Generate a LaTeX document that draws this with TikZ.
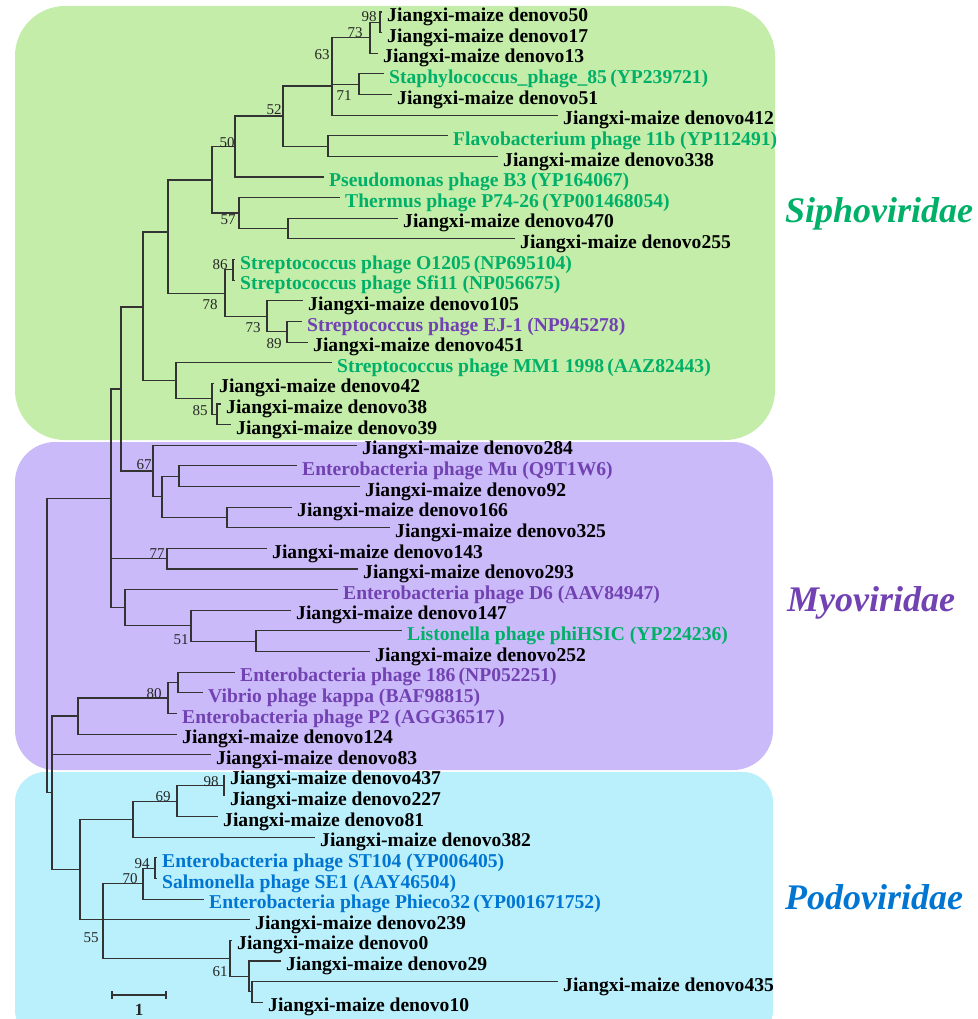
\documentclass[tikz,border=0pt]{standalone}
\usepackage{fontspec}
\setmainfont{Liberation Serif}
\usepackage{xcolor}
\usepackage{tikz}
\usetikzlibrary{positioning}

\definecolor{siphobox}{RGB}{195,237,168}
\definecolor{myobox}{RGB}{202,186,250}
\definecolor{podobox}{RGB}{186,240,252}
\definecolor{siphotext}{RGB}{0,176,104}
\definecolor{myotext}{RGB}{114,66,178}
\definecolor{podotext}{RGB}{0,118,210}

\begin{document}
\begin{tikzpicture}[x=1pt, y=-1pt,
  branch/.style={draw=black!80, line width=1.05pt},
  leaf/.style={anchor=west, inner sep=0pt, xshift=5pt, yshift=-5pt,
    font=\fontsize{19.6}{20}\selectfont\bfseries},
  sipho/.style={leaf, text=siphotext},
  myo/.style={leaf, text=myotext},
  podo/.style={leaf, text=podotext},
  boot/.style={inner sep=0pt, text=black!85, font=\fontsize{15}{15}\selectfont},
  family/.style={font=\fontsize{36}{36}\selectfont\bfseries\itshape}]
\useasboundingbox (0,0) rectangle (977,1019);
\clip (0,0) rectangle (977,1019);

% family boxes
\fill[siphobox, rounded corners=50pt] (15,6) rectangle (775,440);
\fill[myobox, rounded corners=40pt] (15,442) rectangle (773,770);
\fill[podobox, rounded corners=30pt] (15,772) rectangle (773,1040);
\node[family, text=siphotext] (siphoname) at (879,214) {Siphoviridae};
\node[family, text=myotext] (myoname) at (871,603) {Myoviridae};
\node[family, text=podotext] (podoname) at (874,897) {Podoviridae};

% tips and labels
\coordinate (t1) at (382,12.0); \node[leaf] (l1) at (t1) {Jiangxi-maize denovo50};
\coordinate (t2) at (382,32.6); \node[leaf] (l2) at (t2) {Jiangxi-maize denovo17};
\coordinate (t3) at (378,53.3); \node[leaf] (l3) at (t3) {Jiangxi-maize denovo13};
\coordinate (t4) at (384,73.9); \node[sipho] (l4) at (t4) {Staphylococcus\_phage\_85\,(YP239721)};
\coordinate (t5) at (392,94.5); \node[leaf] (l5) at (t5) {Jiangxi-maize denovo51};
\coordinate (t6) at (558,115.2); \node[leaf] (l6) at (t6) {Jiangxi-maize denovo412};
\coordinate (t7) at (448,135.8); \node[sipho] (l7) at (t7) {Flavobacterium phage 11b (YP112491)};
\coordinate (t8) at (498,156.4); \node[leaf] (l8) at (t8) {Jiangxi-maize denovo338};
\coordinate (t9) at (324,177.0); \node[sipho] (l9) at (t9) {Pseudomonas phage B3 (YP164067)};
\coordinate (t10) at (340,197.7); \node[sipho] (l10) at (t10) {Thermus phage P74-26\,(YP001468054)};
\coordinate (t11) at (398,218.3); \node[leaf] (l11) at (t11) {Jiangxi-maize denovo470};
\coordinate (t12) at (515,238.9); \node[leaf] (l12) at (t12) {Jiangxi-maize denovo255};
\coordinate (t13) at (235,259.6); \node[sipho] (l13) at (t13) {Streptococcus phage O1205\,(NP695104)};
\coordinate (t14) at (235,280.2); \node[sipho] (l14) at (t14) {Streptococcus phage Sfi11 (NP056675)};
\coordinate (t15) at (303,300.8); \node[leaf] (l15) at (t15) {Jiangxi-maize denovo105};
\coordinate (t16) at (302,321.5); \node[myo] (l16) at (t16) {Streptococcus phage EJ-1 (NP945278)};
\coordinate (t17) at (308,342.1); \node[leaf] (l17) at (t17) {Jiangxi-maize denovo451};
\coordinate (t18) at (332,362.7); \node[sipho] (l18) at (t18) {Streptococcus phage MM1 1998\,(AAZ82443)};
\coordinate (t19) at (214,383.3); \node[leaf] (l19) at (t19) {Jiangxi-maize denovo42};
\coordinate (t20) at (221,404.0); \node[leaf] (l20) at (t20) {Jiangxi-maize denovo38};
\coordinate (t21) at (231,424.6); \node[leaf] (l21) at (t21) {Jiangxi-maize denovo39};
\coordinate (t22) at (357,445.2); \node[leaf] (l22) at (t22) {Jiangxi-maize denovo284};
\coordinate (t23) at (297,465.9); \node[myo] (l23) at (t23) {Enterobacteria phage Mu (Q9T1W6)};
\coordinate (t24) at (360,486.5); \node[leaf] (l24) at (t24) {Jiangxi-maize denovo92};
\coordinate (t25) at (292,507.1); \node[leaf] (l25) at (t25) {Jiangxi-maize denovo166};
\coordinate (t26) at (390,527.8); \node[leaf] (l26) at (t26) {Jiangxi-maize denovo325};
\coordinate (t27) at (267,548.4); \node[leaf] (l27) at (t27) {Jiangxi-maize denovo143};
\coordinate (t28) at (358,569.0); \node[leaf] (l28) at (t28) {Jiangxi-maize denovo293};
\coordinate (t29) at (338,589.6); \node[myo] (l29) at (t29) {Enterobacteria phage D6 (AAV84947)};
\coordinate (t30) at (291,610.3); \node[leaf] (l30) at (t30) {Jiangxi-maize denovo147};
\coordinate (t31) at (402,630.9); \node[sipho] (l31) at (t31) {Listonella phage phiHSIC (YP224236)};
\coordinate (t32) at (370,651.5); \node[leaf] (l32) at (t32) {Jiangxi-maize denovo252};
\coordinate (t33) at (235,672.2); \node[myo] (l33) at (t33) {Enterobacteria phage 186\,(NP052251)};
\coordinate (t34) at (203,692.8); \node[myo] (l34) at (t34) {Vibrio phage kappa (BAF98815)};
\coordinate (t35) at (177,713.4); \node[myo] (l35) at (t35) {Enterobacteria phage P2 (AGG36517\,)};
\coordinate (t36) at (177,734.1); \node[leaf] (l36) at (t36) {Jiangxi-maize denovo124};
\coordinate (t37) at (211,754.7); \node[leaf] (l37) at (t37) {Jiangxi-maize denovo83};
\coordinate (t38) at (225,775.3); \node[leaf] (l38) at (t38) {Jiangxi-maize denovo437};
\coordinate (t39) at (225,795.9); \node[leaf] (l39) at (t39) {Jiangxi-maize denovo227};
\coordinate (t40) at (218,816.6); \node[leaf] (l40) at (t40) {Jiangxi-maize denovo81};
\coordinate (t41) at (315,837.2); \node[leaf] (l41) at (t41) {Jiangxi-maize denovo382};
\coordinate (t42) at (157,857.8); \node[podo] (l42) at (t42) {Enterobacteria phage ST104 (YP006405)};
\coordinate (t43) at (157,878.5); \node[podo] (l43) at (t43) {Salmonella phage SE1 (AAY46504)};
\coordinate (t44) at (204,899.1); \node[podo] (l44) at (t44) {Enterobacteria phage Phieco32\,(YP001671752)};
\coordinate (t45) at (250,919.7); \node[leaf] (l45) at (t45) {Jiangxi-maize denovo239};
\coordinate (t46) at (232,940.3); \node[leaf] (l46) at (t46) {Jiangxi-maize denovo0};
\coordinate (t47) at (281,961.0); \node[leaf] (l47) at (t47) {Jiangxi-maize denovo29};
\coordinate (t48) at (558,981.6); \node[leaf] (l48) at (t48) {Jiangxi-maize denovo435};
\coordinate (t49) at (263,1002.2); \node[leaf] (l49) at (t49) {Jiangxi-maize denovo10};

% inner nodes
\coordinate (n98a) at (380,22.3);
\coordinate (n73a) at (370,37.8);
\coordinate (n71) at (359,84.2);
\coordinate (n63) at (332,86);
\coordinate (nfl) at (328,146.1);
\coordinate (n52) at (283,116);
\coordinate (n50) at (235,146.5);
\coordinate (nps) at (212,180);
\coordinate (n57) at (239,213);
\coordinate (nth) at (288,228.6);
\coordinate (n86) at (233,269.9);
\coordinate (n89) at (287,331.8);
\coordinate (n73b) at (267,316.3);
\coordinate (n78) at (225,293.1);
\coordinate (nst) at (168,232);
\coordinate (n85) at (217,414.3);
\coordinate (n42) at (212,398.8);
\coordinate (nmm) at (176,380.8);
\coordinate (nsi) at (143,307);
\coordinate (nmu) at (179,476.2);
\coordinate (n166) at (227,517.5);
\coordinate (nmy) at (162,496.8);
\coordinate (n67) at (153,471);
\coordinate (nup) at (121,389);
\coordinate (n77) at (167,558.7);
\coordinate (nli) at (256,641.2);
\coordinate (n51) at (191,625.8);
\coordinate (nd6) at (125,607.7);
\coordinate (ntop) at (111,498.4);
\coordinate (nka) at (178,682.5);
\coordinate (n80) at (168,698);
\coordinate (np2) at (78,716);
\coordinate (n98b) at (224,785.6);
\coordinate (n69) at (177,801.1);
\coordinate (n382) at (133,819.2);
\coordinate (n94) at (155,868.2);
\coordinate (n70) at (143,883.6);
\coordinate (n252) at (252,991.9);
\coordinate (n249) at (249,976.4);
\coordinate (n61) at (230,958.4);
\coordinate (n55) at (103,919.7);
\coordinate (npo) at (80,869.5);
\coordinate (nlow) at (52,792.8);
\coordinate (root) at (47,645.6);

% branches
\draw[branch] (n98a) |- (t1); \draw[branch] (n98a) |- (t2);
\draw[branch] (n73a) |- (n98a); \draw[branch] (n73a) |- (t3);
\draw[branch] (n71) |- (t4); \draw[branch] (n71) |- (t5);
\draw[branch] (n63) |- (n73a); \draw[branch] (n63) |- (n71); \draw[branch] (n63) |- (t6);
\draw[branch] (nfl) |- (t7); \draw[branch] (nfl) |- (t8);
\draw[branch] (n52) |- (n63); \draw[branch] (n52) |- (nfl);
\draw[branch] (n50) |- (n52); \draw[branch] (n50) |- (t9);
\draw[branch] (nth) |- (t11); \draw[branch] (nth) |- (t12);
\draw[branch] (n57) |- (t10); \draw[branch] (n57) |- (nth);
\draw[branch] (nps) |- (n50); \draw[branch] (nps) |- (n57);
\draw[branch] (n86) |- (t13); \draw[branch] (n86) |- (t14);
\draw[branch] (n89) |- (t16); \draw[branch] (n89) |- (t17);
\draw[branch] (n73b) |- (t15); \draw[branch] (n73b) |- (n89);
\draw[branch] (n78) |- (n86); \draw[branch] (n78) |- (n73b);
\draw[branch] (nst) |- (nps); \draw[branch] (nst) |- (n78);
\draw[branch] (n85) |- (t20); \draw[branch] (n85) |- (t21);
\draw[branch] (n42) |- (t19); \draw[branch] (n42) |- (n85);
\draw[branch] (nmm) |- (t18); \draw[branch] (nmm) |- (n42);
\draw[branch] (nsi) |- (nst); \draw[branch] (nsi) |- (nmm);
\draw[branch] (nmu) |- (t23); \draw[branch] (nmu) |- (t24);
\draw[branch] (n166) |- (t25); \draw[branch] (n166) |- (t26);
\draw[branch] (nmy) |- (nmu); \draw[branch] (nmy) |- (n166);
\draw[branch] (n67) |- (t22); \draw[branch] (n67) |- (nmy);
\draw[branch] (nup) |- (nsi); \draw[branch] (nup) |- (n67);
\draw[branch] (n77) |- (t27); \draw[branch] (n77) |- (t28);
\draw[branch] (nli) |- (t31); \draw[branch] (nli) |- (t32);
\draw[branch] (n51) |- (t30); \draw[branch] (n51) |- (nli);
\draw[branch] (nd6) |- (t29); \draw[branch] (nd6) |- (n51);
\draw[branch] (ntop) |- (nup); \draw[branch] (ntop) |- (n77); \draw[branch] (ntop) |- (nd6);
\draw[branch] (nka) |- (t33); \draw[branch] (nka) |- (t34);
\draw[branch] (n80) |- (nka); \draw[branch] (n80) |- (t35);
\draw[branch] (np2) |- (n80); \draw[branch] (np2) |- (t36);
\draw[branch] (n98b) |- (t38); \draw[branch] (n98b) |- (t39);
\draw[branch] (n69) |- (n98b); \draw[branch] (n69) |- (t40);
\draw[branch] (n382) |- (n69); \draw[branch] (n382) |- (t41);
\draw[branch] (n94) |- (t42); \draw[branch] (n94) |- (t43);
\draw[branch] (n70) |- (n94); \draw[branch] (n70) |- (t44);
\draw[branch] (n252) |- (t48); \draw[branch] (n252) |- (t49);
\draw[branch] (n249) |- (t47); \draw[branch] (n249) |- (n252);
\draw[branch] (n61) |- (t46); \draw[branch] (n61) |- (n249);
\draw[branch] (n55) |- (n70); \draw[branch] (n55) |- (n61);
\draw[branch] (npo) |- (n382); \draw[branch] (npo) |- (n55); \draw[branch] (npo) |- (t45);
\draw[branch] (nlow) |- (np2); \draw[branch] (nlow) |- (t37); \draw[branch] (nlow) |- (npo);
\draw[branch] (root) |- (ntop); \draw[branch] (root) |- (nlow);

% bootstrap values
\node[boot] (b98a) at (369,17) {98};
\node[boot] (b73a) at (355,33) {73};
\node[boot] (b63) at (322,55) {63};
\node[boot] (b71) at (344,96) {71};
\node[boot] (b52) at (274,110) {52};
\node[boot] (b50) at (227,143) {50};
\node[boot] (b57) at (228,220) {57};
\node[boot] (b86) at (220,265) {86};
\node[boot] (b78) at (210,305) {78};
\node[boot] (b73b) at (253,328) {73};
\node[boot] (b89) at (274,344) {89};
\node[boot] (b85) at (200,411) {85};
\node[boot] (b67) at (144,465) {67};
\node[boot] (b77) at (157,554) {77};
\node[boot] (b51) at (181,640) {51};
\node[boot] (b80) at (154,694) {80};
\node[boot] (b98b) at (211,782) {98};
\node[boot] (b69) at (163,797) {69};
\node[boot] (b94) at (142,864) {94};
\node[boot] (b70) at (130,879) {70};
\node[boot] (b55) at (91,938) {55};
\node[boot] (b61) at (220,972) {61};

% scale bar
\coordinate (sbl) at (112,995);
\coordinate (sbr) at (166,995);
\draw[branch] (sbl) -- (sbr);
\draw[branch] ([yshift=4pt]sbl) -- ([yshift=-4pt]sbl);
\draw[branch] ([yshift=4pt]sbr) -- ([yshift=-4pt]sbr);
\node[boot, font=\fontsize{17}{17}\selectfont\bfseries] (sbtext) at (139,1010) {1};
\end{tikzpicture}
\end{document}
